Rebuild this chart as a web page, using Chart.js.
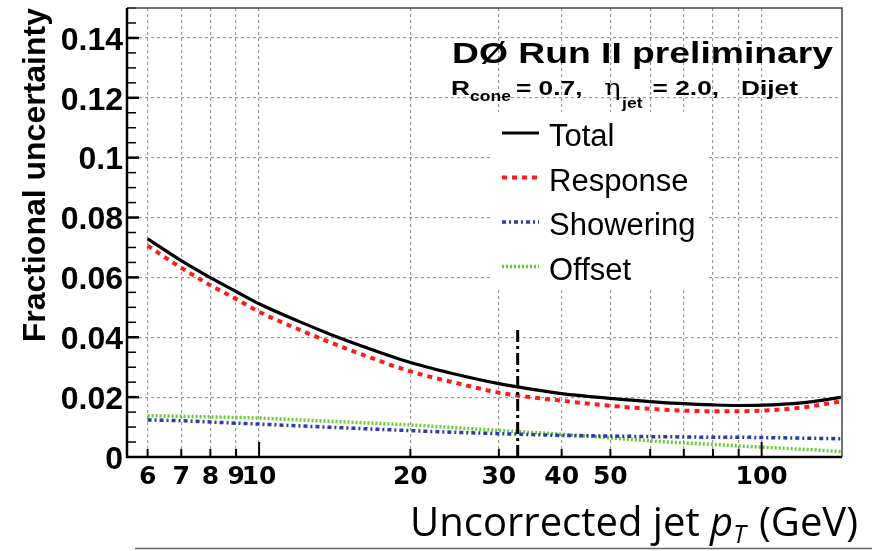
<!DOCTYPE html>
<html>
<head>
<meta charset="utf-8">
<script src="https://cdn.jsdelivr.net/npm/chart.js@4.4.1/dist/chart.umd.min.js"></script>
<style>
  html, body { margin: 0; padding: 0; background: #fff; }
  #wrap { width: 872px; height: 551px; }
</style>
</head>
<body>
<div id="wrap"><canvas id="myChart" width="872" height="551"></canvas></div>
<script>
'use strict';

const ptValues = [6, 7, 8, 9, 10, 12, 14, 16, 20, 25, 30, 35, 40, 50, 60, 70, 80, 90, 100, 120, 144];
const totalUnc = [0.0729, 0.0656, 0.0599, 0.0553, 0.0512, 0.0453, 0.0407, 0.0371, 0.0316, 0.0274, 0.0245, 0.0226, 0.0212, 0.0196, 0.0185, 0.0178, 0.0174, 0.0172, 0.0173, 0.0181, 0.0199];
const responseUnc = [0.0706, 0.0632, 0.0574, 0.0528, 0.0485, 0.0426, 0.0380, 0.0343, 0.0286, 0.0245, 0.0215, 0.0199, 0.0188, 0.0171, 0.0161, 0.0155, 0.0153, 0.0153, 0.0155, 0.0165, 0.0186];
const showeringUnc = [0.0124, 0.0121, 0.0117, 0.0113, 0.0110, 0.0104, 0.0099, 0.0095, 0.0088, 0.0082, 0.0078, 0.0075, 0.0072, 0.0070, 0.0068, 0.0067, 0.0066, 0.0066, 0.0065, 0.0063, 0.0061];
const offsetUnc = [0.0138, 0.0136, 0.0134, 0.0132, 0.0130, 0.0124, 0.0119, 0.0115, 0.0107, 0.0097, 0.0089, 0.0082, 0.0076, 0.0064, 0.0054, 0.0047, 0.0042, 0.0037, 0.0033, 0.0026, 0.0018];

// vertical dash-dot marker
const cutPt = [32.7, 32.7];
const cutUnc = [0, 0.043];

const seriesNames = ['Total', 'Response', 'Showering', 'Offset'];

// axis ticks
const xTickValues = [6, 7, 8, 9, 10, 20, 30, 40, 50, 60, 70, 80, 90, 100];
const xTickLabels = ['6', '7', '8', '9', '10', '20', '30', '40', '50', '', '', '', '', '100'];
const yTickValues = [0, 0.02, 0.04, 0.06, 0.08, 0.1, 0.12, 0.14];
const yMinorValues = [];
for (let i = 1; i <= 30; i++) {
    yMinorValues.push(+(i * 0.005).toFixed(3));
}

function toPoints(xs, ys) {
    return xs.map((x, i) => ({ x: x, y: ys[i] }));
}

function piecesWidth(ctx, pieces) {
    let w = 0;
    pieces.forEach(p => { ctx.font = p[1]; w += ctx.measureText(p[0]).width + (p[3] || 0); });
    return w;
}

// draws a run of text pieces [text, font, dy, gapAfter] one after the other
function drawPieces(ctx, pieces, x, y) {
    let cx = x;
    pieces.forEach(p => {
        ctx.font = p[1];
        ctx.fillText(p[0], cx, y + (p[2] || 0));
        cx += ctx.measureText(p[0]).width + (p[3] || 0);
    });
}

const legendBox = {
    id: 'legendBox',
    beforeDatasetsDraw(chart) {
        const ctx = chart.ctx;
        ctx.save();
        ctx.fillStyle = '#fff';
        ctx.fillRect(490, 112, 218, 176);
        ctx.restore();
    },
    afterDatasetsDraw(chart) {
        const ctx = chart.ctx;
        ctx.save();
        let rowY = 133;
        chart.data.datasets.forEach(ds => {
            if (!ds.label) return;
            ctx.beginPath();
            ctx.strokeStyle = ds.borderColor;
            ctx.lineWidth = ds.borderWidth;
            ctx.setLineDash(ds.borderDash || []);
            ctx.moveTo(502, rowY);
            ctx.lineTo(539, rowY);
            ctx.stroke();
            ctx.setLineDash([]);
            ctx.fillStyle = '#000';
            ctx.font = '31px "Liberation Sans"';
            ctx.textBaseline = 'alphabetic';
            ctx.fillText(ds.label, 549, rowY + 13);
            rowY += 44.5;
        });
        ctx.restore();
    }
};

const frameAndText = {
    id: 'frameAndText',
    afterDraw(chart) {
        const ctx = chart.ctx;
        const a = chart.chartArea;
        const xs = chart.scales.x;
        const ys = chart.scales.y;
        ctx.save();
        ctx.strokeStyle = '#000';

        // inward ticks on the y axis
        yMinorValues.forEach(v => {
            const py = ys.getPixelForValue(v);
            const major = yTickValues.some(t => Math.abs(t - v) < 1e-9);
            ctx.lineWidth = major ? 2.5 : 1.5;
            ctx.beginPath();
            ctx.moveTo(a.left, py);
            ctx.lineTo(a.left + (major ? 12 : 9), py);
            ctx.stroke();
        });
        // inward ticks on the x axis
        xTickValues.forEach(v => {
            const px = xs.getPixelForValue(v);
            const decade = (v === 10 || v === 100);
            ctx.lineWidth = 2;
            ctx.beginPath();
            ctx.moveTo(px, a.bottom);
            ctx.lineTo(px, a.bottom - (decade ? 15 : 8));
            ctx.stroke();
        });

        // frame
        ctx.lineWidth = 1.5;
        ctx.strokeStyle = '#444';
        ctx.beginPath();
        ctx.moveTo(a.left, a.top);
        ctx.lineTo(a.right, a.top);
        ctx.lineTo(a.right, a.bottom);
        ctx.stroke();
        ctx.lineWidth = 2.5;
        ctx.strokeStyle = '#000';
        ctx.beginPath();
        ctx.moveTo(a.left, a.top);
        ctx.lineTo(a.left, a.bottom);
        ctx.lineTo(a.right, a.bottom);
        ctx.stroke();

        // header text
        ctx.fillStyle = '#000';
        ctx.textBaseline = 'alphabetic';
        ctx.font = 'bold 29px "Liberation Sans"';
        const head = 'D\u00d8 Run II preliminary';
        const hw = ctx.measureText(head).width;
        ctx.save();
        ctx.translate(452, 63);
        ctx.scale(381 / hw, 1);
        ctx.fillText(head, 0, 0);
        ctx.restore();

        const subPieces = [
            ['R', 'bold 21px "Liberation Sans"', 0],
            ['cone', 'bold 14px "Liberation Sans"', 6, 4],
            ['= 0.7,   ', 'bold 21px "Liberation Sans"', 0],
            ['\u03b7', '22px "DejaVu Serif"', 0, 1],
            ['jet', 'bold 14px "Liberation Sans"', 13, 8],
            ['= 2.0,   Dijet', 'bold 21px "Liberation Sans"', 0]
        ];
        const sw = piecesWidth(ctx, subPieces);
        ctx.save();
        ctx.translate(451, 95);
        ctx.scale(347 / sw, 1);
        drawPieces(ctx, subPieces, 0, 0);
        ctx.restore();

        // x axis title
        const titlePieces = [
            ['Uncorrected jet ', '40px "Open Sans"', 0],
            ['p', 'italic 40px "Open Sans"', 0],
            ['T', 'italic 25px "Open Sans"', 7, 3],
            [' (GeV)', '40px "Open Sans"', 0]
        ];
        const tw = piecesWidth(ctx, titlePieces);
        drawPieces(ctx, titlePieces, 858 - tw, 536);

        // page edge line at the bottom
        ctx.lineWidth = 1.5;
        ctx.strokeStyle = '#666';
        ctx.beginPath();
        ctx.moveTo(135, 548.5);
        ctx.lineTo(872, 548.5);
        ctx.stroke();
        ctx.restore();
    }
};

Chart.defaults.color = '#000';

const config = {
    type: 'line',
    data: {
        datasets: [
            {
                label: '',
                data: toPoints(cutPt, cutUnc),
                borderColor: '#000',
                borderWidth: 3,
                borderDash: [12, 4, 3, 4],
                pointRadius: 0,
                order: 0
            },
            {
                label: seriesNames[0],
                data: toPoints(ptValues, totalUnc),
                borderColor: '#000',
                borderWidth: 3.2,
                borderDash: [],
                pointRadius: 0,
                cubicInterpolationMode: 'monotone',
                order: 1
            },
            {
                label: seriesNames[1],
                data: toPoints(ptValues, responseUnc),
                borderColor: '#ff1a1a',
                borderWidth: 4,
                borderDash: [5, 5],
                pointRadius: 0,
                cubicInterpolationMode: 'monotone',
                order: 2
            },
            {
                label: seriesNames[2],
                data: toPoints(ptValues, showeringUnc),
                borderColor: '#2a3ca8',
                borderWidth: 3.5,
                borderDash: [4, 3, 2, 3],
                pointRadius: 0,
                cubicInterpolationMode: 'monotone',
                order: 3
            },
            {
                label: seriesNames[3],
                data: toPoints(ptValues, offsetUnc),
                borderColor: '#66cc33',
                borderWidth: 3.5,
                borderDash: [2, 2],
                pointRadius: 0,
                cubicInterpolationMode: 'monotone',
                order: 4
            }
        ]
    },
    options: {
        responsive: false,
        animation: false,
        devicePixelRatio: 1,
        layout: { padding: { top: 8, right: 30, left: 0, bottom: 0 } },
        plugins: {
            legend: { display: false },
            tooltip: { enabled: false }
        },
        scales: {
            x: {
                type: 'logarithmic',
                min: 5.46,
                max: 144.5,
                afterBuildTicks: s => { s.ticks = xTickValues.map(v => ({ value: v })); },
                afterFit: s => { s.height = 94; s.paddingLeft = 0; s.paddingRight = 0; },
                ticks: {
                    autoSkip: false,
                    maxRotation: 0,
                    padding: 5,
                    font: { family: 'DejaVu Sans', weight: 'bold', size: 25 },
                    callback: (v, i) => xTickLabels[i]
                },
                grid: { color: '#9a9a9a', lineWidth: 1.2, drawTicks: false },
                border: { display: false, dash: [3, 3] }
            },
            y: {
                min: 0,
                max: 0.15,
                afterBuildTicks: s => { s.ticks = yTickValues.map(v => ({ value: v })); },
                afterFit: s => { s.width = 127; s.paddingTop = 0; s.paddingBottom = 0; },
                ticks: {
                    padding: 4,
                    labelOffset: 3,
                    font: { family: 'Liberation Sans', weight: 'bold', size: 32 },
                    callback: v => String(Number(v.toFixed(2)))
                },
                grid: { color: '#9a9a9a', lineWidth: 1.2, drawTicks: false },
                border: { display: false, dash: [3, 3] },
                title: {
                    display: true,
                    text: 'Fractional uncertainty',
                    align: 'end',
                    font: { family: 'Liberation Sans', weight: 'bold', size: 32 },
                    padding: { top: 17, bottom: 0 }
                }
            }
        }
    },
    plugins: [legendBox, frameAndText]
};

const myChart = new Chart(document.getElementById('myChart'), config);
</script>
</body>
</html>
